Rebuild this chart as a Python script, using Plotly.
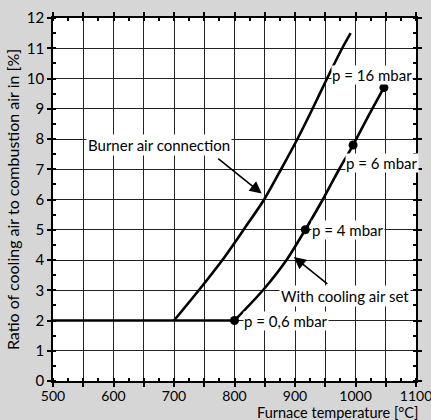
import plotly.graph_objects as go

# Data
base_x = [500, 800]
base_y = [2, 2]
burner_x = [700, 741, 780, 815, 849, 877, 904, 929, 953, 978, 992]
burner_y = [2, 3, 4, 5, 6, 7, 8, 9, 10, 11, 11.5]
cool_x = [800, 847, 886, 917, 946, 973, 996, 1021, 1047]
cool_y = [2, 3, 4, 5, 6, 7, 7.8, 8.75, 9.7]
marker_x = [800, 917, 996, 1047]
marker_y = [2, 5, 7.8, 9.7]
marker_labels = ["p = 0,6 mbar", "p = 4 mbar", "p = 6 mbar", "p = 16 mbar"]
x_ticks = list(range(500, 1101, 50))
x_ticklabels = [str(v) if v % 100 == 0 else "" for v in x_ticks]
y_ticks = list(range(0, 13))

FONT = "Lato"
FS = 15
fig = go.Figure()
fig.add_trace(go.Scatter(x=base_x, y=base_y, mode="lines",
                         line=dict(color="black", width=2.6)))
fig.add_trace(go.Scatter(x=cool_x, y=cool_y, mode="lines",
                         line=dict(color="black", width=2.6, shape="spline", smoothing=0.8)))
fig.add_trace(go.Scatter(x=burner_x, y=burner_y, mode="lines",
                         line=dict(color="black", width=2.6, shape="spline", smoothing=0.8)))
fig.add_trace(go.Scatter(x=marker_x, y=marker_y, mode="markers",
                         marker=dict(color="black", size=9)))

# marker labels (pixel offsets relative to each marker)
label_shifts = [(8, 0), (6, 0), (-8, -18), (-53, 13)]
for mx, my, lab, (dx, dy) in zip(marker_x, marker_y, marker_labels, label_shifts):
    fig.add_annotation(x=mx, y=my, text=lab, showarrow=False, xanchor="left",
                       xshift=dx, yshift=dy, bgcolor="white", borderpad=0,
                       font=dict(size=FS, color="black", family=FONT))

# callouts with arrows
fig.add_annotation(x=845, y=6.2, ax=-45, ay=-36, text="", showarrow=True,
                   arrowhead=2, arrowsize=1.5, arrowwidth=1.6, arrowcolor="black")
fig.add_annotation(x=676, y=7.8, text="Burner air connection", showarrow=False,
                   bgcolor="white", borderpad=1, font=dict(size=FS, color="black", family=FONT))
fig.add_annotation(x=898, y=4.1, ax=35, ay=28, text="", showarrow=True,
                   arrowhead=2, arrowsize=1.5, arrowwidth=1.6, arrowcolor="black")
fig.add_annotation(x=983, y=2.81, text="With cooling air set", showarrow=False,
                   bgcolor="white", borderpad=1, font=dict(size=FS, color="black", family=FONT))

axis_common = dict(showline=True, linecolor="black", linewidth=1.5, mirror="ticks",
                   gridcolor="#222222", gridwidth=1.1, ticks="outside", tickcolor="black",
                   tickwidth=1.5, ticklen=4, zeroline=False,
                   tickfont=dict(size=15, color="black", family=FONT))
fig.update_xaxes(range=[500, 1100], tickvals=x_ticks, ticktext=x_ticklabels,
                 ticklabelstandoff=-3, ticklabeloverflow="allow",
                 minor=dict(dtick=25, ticks="inside", ticklen=3, tickwidth=1.5,
                            tickcolor="black", showgrid=False),
                 **axis_common)
fig.update_xaxes(tickfont=dict(size=14, color="black", family=FONT))
fig.update_yaxes(range=[0, 12], tickvals=y_ticks,
                 minor=dict(dtick=0.5, ticks="inside", ticklen=3, tickwidth=1.5,
                            tickcolor="black", showgrid=False),
                 title=dict(text="Ratio of cooling air to combustion air in [%]", standoff=3,
                            font=dict(size=16, color="black", family=FONT)),
                 **axis_common)
fig.add_annotation(x=1, y=0, xref="paper", yref="paper", xanchor="right", yanchor="top",
                   yshift=-21, xshift=4, text="Furnace temperature [°C]", showarrow=False,
                   font=dict(size=14.5, color="black", family=FONT))

fig.update_layout(width=431, height=420, showlegend=False,
                  paper_bgcolor="#d6d6d6", plot_bgcolor="white",
                  margin=dict(l=53, r=15, t=18, b=39, autoexpand=False))
fig.write_html("out.html", config={"displayModeBar": False},
               post_script="document.body.style.margin='0';")
